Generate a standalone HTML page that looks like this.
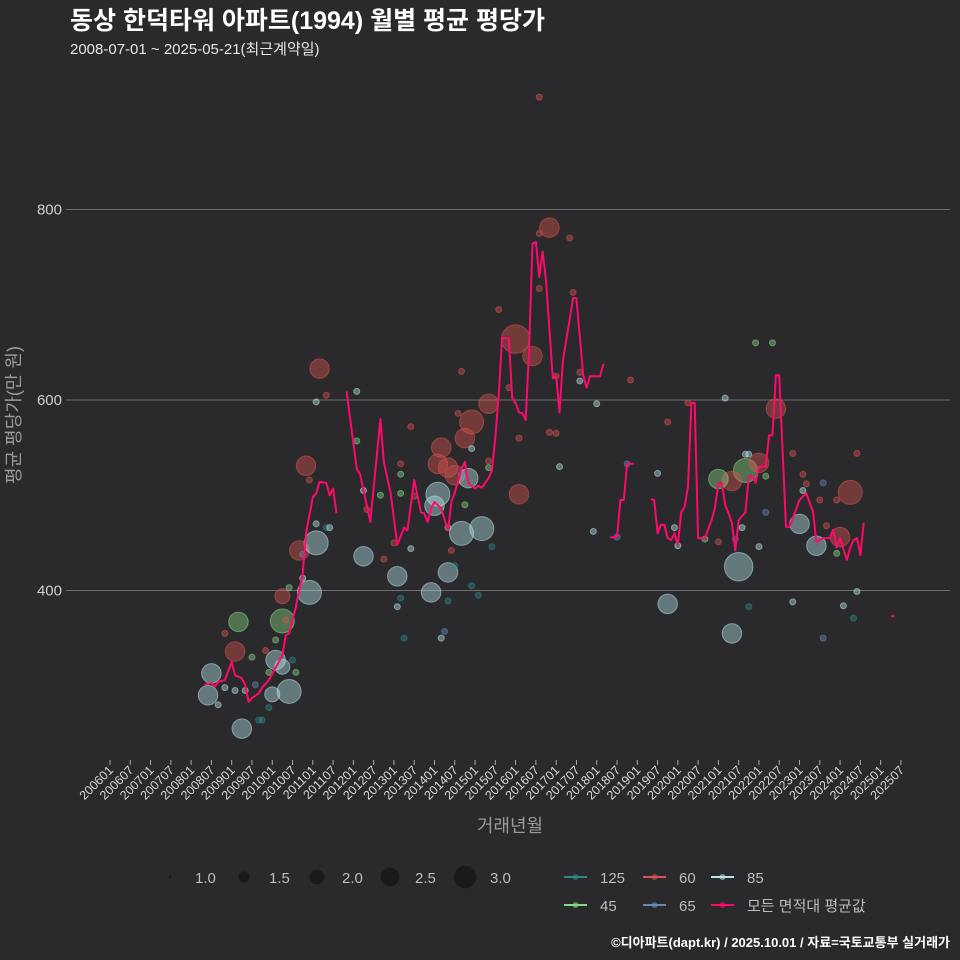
<!DOCTYPE html>
<html><head><meta charset="utf-8">
<style>
html,body{margin:0;padding:0;background:#2a292b;}
svg{display:block;font-family:"Liberation Sans","Noto Sans CJK KR",sans-serif;}
</style></head>
<body>
<svg id="chart" width="960" height="960" viewBox="0 0 960 960">
<rect width="960" height="960" fill="#2a292b"/>
<text x="70" y="29" font-size="25" font-weight="bold" fill="#ffffff">동상 한덕타워 아파트(1994) 월별 평균 평당가</text>
<text x="70" y="54" font-size="15" fill="#e6e6e6">2008-07-01 ~ 2025-05-21(최근계약일)</text>
<g id="grid"></g>
<g id="yticks"></g>
<g id="xticks"></g>
<g id="bubbles"></g>
<g id="line"></g>
<text transform="translate(20,415) rotate(-90)" text-anchor="middle" font-size="18" fill="#9a9a9a">평균 평당가(만 원)</text>
<text x="510" y="832" text-anchor="middle" font-size="18" fill="#9a9a9a">거래년월</text>
<g id="legend"></g>
<text x="950" y="947" text-anchor="end" font-size="13" font-weight="bold" fill="#ffffff">©디아파트(dapt.kr) / 2025.10.01 / 자료=국토교통부 실거래가</text>
</svg>
<script>
// y ticks
const yTicks = [400, 600, 800];
// x tick labels (every 6 months from 2006-01)
const xTickLabels = ["200601","200607","200701","200707","200801","200807","200901","200907","201001","201007","201101","201107","201201","201207","201301","201307","201401","201407","201501","201507","201601","201607","201701","201707","201801","201807","201901","201907","202001","202007","202101","202107","202201","202207","202301","202307","202401","202407","202501","202507"];
// average line: months since 2006-01 (null = gap)
const lineMonths = [28,30,31,32,34,36,37,39,40,41,42,44,45,47,49,51,52,53,55,57,58,60,61,62,64,65,66,67,null,
70,73,74,77,80,81,83,85,87,88,90,92,93,94,95,96,98,100,101,102,104,105,106,108,109,110,112,113,114,115,116,118,119,120,121,122,123,124,125,126,127,128,129,131,132,133,134,137,138,140,141,142,145,146,null,
148,150,151,152,153,155,null,
160,161,162,163,164,165,166,167,168,169,170,171,172,173,174,176,178,179,180,181,182,183,184,185,186,188,189,190,191,192,194,195,196,197,198,200,201,203,204,206,207,208,209,211,213,214,215,216,217,218,219,220,221,222,223,null,
231,232];
const lineValues = [301,303,299,304,306,325,311,308,301,283,287,292,298,306,319,332,353,355,383,418,460,498,502,514,513,500,507,481,null,
609,528,522,472,580,535,503,448,466,463,516,482,481,472,486,493,486,463,493,503,528,535,513,507,510,508,518,526,560,605,665,665,602,597,587,586,579,653,764,766,729,756,726,623,625,587,641,707,707,626,613,625,625,638,null,
456,456,495,495,533,533,null,
496,495,460,469,469,455,453,460,448,482,488,509,597,597,455,455,474,487,513,513,490,481,471,442,474,482,520,520,513,530,530,563,563,626,626,467,467,485,495,502,492,483,451,455,455,464,445,455,443,432,445,453,455,437,471,null,
373,373];
// scatter: months since 2006-01, value, area category, size
const dotMonths = [30,29,39,38,37,49,51,53,48,51,51,56,58,62,61,59,75,85,100,95,97,96,98,97,100,102,105,107,112,106,104,110,120,125,121,130,165,184,186,188,184,180,192,197,204,209,219,216,
34,34,32,37,40,42,43,45,44,47,46,47,49,52,53,54,55,57,57,61,64,61,64,65,59,73,73,75,76,80,81,84,86,86,86,89,90,89,86,85,87,98,99,101,100,102,100,105,104,103,104,107,107,109,112,112,113,115,118,121,127,127,127,132,130,132,133,136,137,139,139,143,144,150,153,154,165,162,167,168,171,182,176,180,187,188,189,192,185,202,221,205,206,211,205,210,215,212,194,194,215,202,217,221,220,191,196,189,211];
const dotValues = [313,290,255,367,336,327,320,294,291,368,394,442,531,633,450,398,436,415,419,398,501,489,550,533,529,521,560,577,596,518,460,465,664,646,501,781,386,355,425,526,515,517,534,591,470,447,503,456,
355,298,280,295,295,330,301,264,264,277,337,314,348,369,403,327,314,413,438,598,605,470,466,466,516,609,557,505,485,500,433,450,533,522,502,572,499,444,392,383,350,350,357,442,466,426,389,490,522,586,630,549,405,395,529,536,446,695,613,560,918,775,717,625,566,565,530,770,713,629,620,462,596,456,533,621,577,523,466,447,597,602,454,451,466,543,543,446,454,544,544,522,512,513,505,495,495,468,520,482,439,388,384,399,371,660,660,383,350];
const dotCats = ["85","85","85","45","60","85","85","85","85","45","60","60","60","60","85","85","85","85","85","85","85","85","60","60","60","60","60","60","60","85","85","85","60","60","60","60","85","85","85","45","60","45","60","60","85","85","60","60",
"60","85","85","85","85","45","65","125","125","125","60","45","45","60","45","125","45","85","65","85","60","85","125","85","60","85","45","85","60","45","60","60","60","45","45","60","60","85","125","85","125","85","65","60","45","125","125","45","65","60","60","85","125","125","45","60","125","60","60","60","60","60","60","60","60","60","85","60","60","60","85","85","85","65","65","60","60","85","85","85","60","85","45","60","85","85","85","85","125","60","60","60","60","65","85","60","60","60","45","65","45","85","85","85","125","45","45","125","65"];
const dotSizes = [2.5,2.5,2.5,2.5,2.5,2.5,2,3,2,3,2,2.5,2.5,2.5,3,3,2.5,2.5,2.5,2.5,3,2.5,2.5,2.5,2.5,2.5,2.5,3,2.5,2.5,3,3,3.5,2.5,2.5,2.5,2.5,2.5,3.5,3,2.5,2.5,2.5,2.5,2.5,2.5,3,2.5];
// legend
const catOrder = ["125","60","85","45","65"];
const sizeLegend = [1.0,1.5,2.0,2.5,3.0];

const NS = "http://www.w3.org/2000/svg";
const colors = {"125":"#2e8b86","60":"#d9534f","85":"#b4e4e8","45":"#86d986","65":"#6a89b5"};
const LINE = "#ff0a6c";
const X0 = 66, X1 = 950;
function xS(m){ return 110 + m * 3.38; }
function yS(v){ return 400 - (v - 600) * 0.9525; }
function rS(s){ return 3 + (s - 1) * 4.5; }
function mk(tag, attrs, parent){ const e = document.createElementNS(NS, tag); for (const k in attrs) e.setAttribute(k, attrs[k]); parent.appendChild(e); return e; }

const grid = document.getElementById('grid');
const yt = document.getElementById('yticks');
yTicks.forEach(v => {
  const l = mk('line', {x1:X0, x2:X1, y1:yS(v), y2:yS(v), stroke:'#6e6e6e', 'stroke-width':1}, grid);
  
  
  const t = mk('text', {x:62, y:yS(v)+5, 'text-anchor':'end', 'font-size':15, fill:'#cfcfcf'}, yt);
  t.textContent = v;
  
  
});
const xt = document.getElementById('xticks');
xTickLabels.forEach((lab, i) => {
  const x = xS(i * 6);
  const tk = mk('line', {x1:x, x2:x, y1:760, y2:765, stroke:'#aaaaaa', 'stroke-width':1}, xt);
  
  
  const t = mk('text', {transform:`translate(${x+4},771) rotate(-45)`, 'text-anchor':'end', 'font-size':12.5, fill:'#d8d8d8'}, xt);
  t.textContent = lab;
  
  
});

const bub = document.getElementById('bubbles');
dotMonths.forEach((m, i) => {
  const s = i < dotSizes.length ? dotSizes[i] : 1;
  const c = colors[dotCats[i]];
  const el = mk('circle', {cx:xS(m), cy:yS(dotValues[i]), r:rS(s), fill:c, 'fill-opacity':0.42, stroke:c, 'stroke-opacity':0.55, 'stroke-width':1}, bub);
  
  
});

const lg = document.getElementById('line');
let d = '', pen = false;
lineMonths.forEach((m, i) => {
  if (m === null || lineValues[i] === null) { pen = false; return; }
  d += (pen ? 'L' : 'M') + xS(m).toFixed(1) + ',' + yS(lineValues[i]).toFixed(1);
  pen = true;
});
const path = mk('path', {d:d, fill:'none', stroke:LINE, 'stroke-width':2, 'stroke-linejoin':'round'}, lg);



const leg = document.getElementById('legend');
const sizeX = [170, 244, 317, 390, 465];
sizeLegend.forEach((s, i) => {
  const c = mk('circle', {cx:sizeX[i], cy:877, r: i === 0 ? 1.5 : rS(s) * 0.85 + 1, fill:'#1a1a1b'}, leg);
  
  
  const t = mk('text', {x:sizeX[i]+25, y:883, 'font-size':15, fill:'#bdbdbd'}, leg);
  t.textContent = s.toFixed(1);
  
  
});
const entries = catOrder.map(c => [c, colors[c]]).concat([["모든 면적대 평균값", LINE]]);
const pos = [[564,877],[643,877],[711,877],[564,905],[643,905],[711,905]];
entries.forEach((e, i) => {
  const [x, y] = pos[i];
  const l = mk('line', {x1:x, x2:x+23, y1:y, y2:y, stroke:e[1], 'stroke-width':2}, leg);
  
  
  const p = mk('circle', {cx:x+11.5, cy:y, r:3, fill:e[1], 'fill-opacity':0.6}, leg);
  
  
  const t = mk('text', {x:x+36, y:y+6, 'font-size':15, fill:'#bdbdbd'}, leg);
  t.textContent = e[0];
  
  
});
</script>
</body></html>
